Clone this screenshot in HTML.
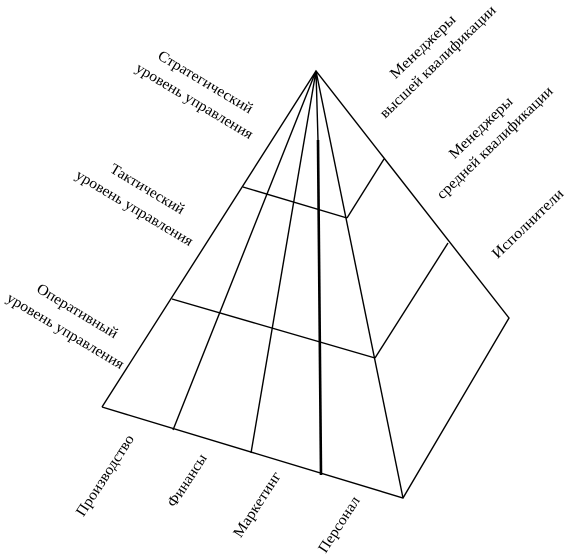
<!DOCTYPE html>
<html><head><meta charset="utf-8"><style>
html,body{margin:0;padding:0;background:#fff;}
svg{display:block;}
text{font-family:"Liberation Serif",serif;font-size:15px;fill:#000;}
</style></head><body>
<svg width="565" height="556" viewBox="0 0 565 556">
<g stroke="#000" stroke-width="1.4" fill="none">
  <polyline points="102,407 316,71 509,318 403,498 102,407"/>
  <line x1="316" y1="71" x2="403" y2="498"/>
  <line x1="316" y1="71" x2="173" y2="430"/>
  <line x1="316" y1="71" x2="251" y2="453"/>
  <line x1="316" y1="71" x2="318" y2="140"/>
  <line x1="318" y1="140" x2="321" y2="475" stroke-width="2.6"/>
  <line x1="243" y1="187" x2="347" y2="218"/>
  <line x1="172" y1="299" x2="375" y2="358"/>
  <line x1="347" y1="218" x2="384" y2="159"/>
  <line x1="375" y1="358" x2="448" y2="243"/>
</g>
<g text-anchor="middle">
  <text transform="translate(203,86) rotate(31)" textLength="108" lengthAdjust="spacingAndGlyphs">Стратегический</text>
  <text transform="translate(192,105) rotate(31)" textLength="134" lengthAdjust="spacingAndGlyphs">уровень управления</text>
  <text transform="translate(145,193) rotate(31)" textLength="84" lengthAdjust="spacingAndGlyphs">Тактический</text>
  <text transform="translate(132,212) rotate(31)" textLength="134" lengthAdjust="spacingAndGlyphs">уровень управления</text>
  <text transform="translate(75,315) rotate(31)" textLength="92" lengthAdjust="spacingAndGlyphs">Оперативный</text>
  <text transform="translate(63,335) rotate(31)" textLength="134" lengthAdjust="spacingAndGlyphs">уровень управления</text>
</g>
<g text-anchor="middle">
  <text transform="translate(426,50) rotate(-44)" textLength="85" lengthAdjust="spacingAndGlyphs">Менеджеры</text>
  <text transform="translate(441,65) rotate(-44)" textLength="155" lengthAdjust="spacingAndGlyphs">высшей квалификации</text>
  <text transform="translate(484,131) rotate(-44)" textLength="82" lengthAdjust="spacingAndGlyphs">Менеджеры</text>
  <text transform="translate(498,146) rotate(-44)" textLength="155" lengthAdjust="spacingAndGlyphs">средней квалификации</text>
  <text transform="translate(531,227) rotate(-44)" textLength="93" lengthAdjust="spacingAndGlyphs">Исполнители</text>
</g>
<g text-anchor="middle">
  <text transform="translate(109,478) rotate(-57)" textLength="94" lengthAdjust="spacingAndGlyphs">Производство</text>
  <text transform="translate(191,483) rotate(-57)" textLength="60" lengthAdjust="spacingAndGlyphs">Финансы</text>
  <text transform="translate(261,507) rotate(-57)" textLength="75" lengthAdjust="spacingAndGlyphs">Маркетинг</text>
  <text transform="translate(343,527) rotate(-57)" textLength="64" lengthAdjust="spacingAndGlyphs">Персонал</text>
</g>
</svg>
</body></html>
